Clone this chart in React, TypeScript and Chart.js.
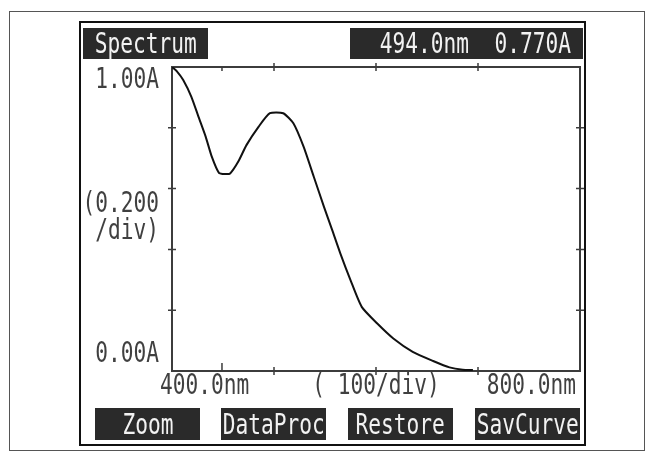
import React, { useEffect, useRef } from "react";
import { Chart, registerables } from "chart.js";

Chart.register(...registerables);

// ---- data ----
const wavelengths = [400, 405, 411, 419, 426, 433, 439, 446, 452, 457, 465, 473, 485, 496, 509, 519, 529, 539, 549, 557, 565, 575, 586, 601, 617, 636, 656, 672, 685, 695];
const absorbance = [1.0, 0.985, 0.957, 0.902, 0.836, 0.771, 0.705, 0.652, 0.648, 0.65, 0.689, 0.743, 0.804, 0.848, 0.848, 0.815, 0.738, 0.639, 0.54, 0.464, 0.387, 0.299, 0.211, 0.157, 0.107, 0.063, 0.033, 0.012, 0.004, 0.003];

const xDivisions = [400, 500, 600, 700, 800];
const yDivisions = [0, 0.2, 0.4, 0.6, 0.8, 1.0];
const markerWavelength = [449];

const yEndLabels = ["0.00A", "1.00A"];
const yDivLabel = ["(0.200", "/div)"];
const xEndLabels = ["400.0nm", "800.0nm"];
const xDivLabel = "( 100/div)";
const headerTitle = "Spectrum";
const cursorReadout = "494.0nm  0.770A";
const buttonLabels = ["Zoom", "DataProc", "Restore", "SavCurve"];

const FONT = '29px "DejaVu Sans Mono", "Liberation Mono", monospace';
const SQUEEZE = 0.73;

function drawText(ctx: CanvasRenderingContext2D, text: string, x: number, y: number, align: CanvasTextAlign) {
  ctx.save();
  ctx.translate(x, y);
  ctx.scale(SQUEEZE, 1);
  ctx.font = FONT;
  ctx.fillStyle = "#404040";
  ctx.textAlign = align;
  ctx.textBaseline = "middle";
  ctx.fillText(text, 0, 0);
  ctx.restore();
}

const instrumentPlugin = {
  id: "instrument",
  beforeDatasetsDraw(chart: any) {
    const { ctx, chartArea, scales } = chart;
    const { left, right, top, bottom } = chartArea;
    ctx.save();
    ctx.strokeStyle = "#3c3c3c";
    ctx.lineWidth = 2;
    ctx.strokeRect(left, top, right - left, bottom - top);
    ctx.lineWidth = 1.5;
    ctx.beginPath();
    for (const v of yDivisions.slice(1, -1)) {
      const py = scales.y.getPixelForValue(v);
      ctx.moveTo(left - 4, py); ctx.lineTo(left + 4, py);
      ctx.moveTo(right - 4, py); ctx.lineTo(right + 4, py);
    }
    for (const v of xDivisions.slice(1, -1)) {
      const px = scales.x.getPixelForValue(v);
      ctx.moveTo(px, top - 4); ctx.lineTo(px, top + 4);
      ctx.moveTo(px, bottom - 4); ctx.lineTo(px, bottom + 4);
    }
    for (const v of markerWavelength) {
      const px = scales.x.getPixelForValue(v);
      ctx.moveTo(px, top); ctx.lineTo(px, top + 4);
      ctx.moveTo(px, bottom - 8); ctx.lineTo(px, bottom);
    }
    ctx.stroke();
    ctx.restore();
  },
  afterDraw(chart: any) {
    const { ctx, chartArea, scales } = chart;
    const { left, top, bottom } = chartArea;
    const midY = (top + bottom) / 2;
    drawText(ctx, yEndLabels[1], left - 13, scales.y.getPixelForValue(yDivisions[yDivisions.length - 1]) + 13, "right");
    drawText(ctx, yEndLabels[0], left - 13, scales.y.getPixelForValue(yDivisions[0]) - 17, "right");
    drawText(ctx, yDivLabel[0], left - 13, midY - 15, "right");
    drawText(ctx, yDivLabel[1], left - 13, midY + 12, "right");
    const labelY = bottom + 15;
    drawText(ctx, xEndLabels[0], scales.x.getPixelForValue(xDivisions[0]) - 12, labelY, "left");
    drawText(ctx, xEndLabels[1], scales.x.getPixelForValue(xDivisions[xDivisions.length - 1]) - 4, labelY, "right");
    drawText(ctx, xDivLabel, scales.x.getPixelForValue(600), labelY, "center");
  },
};

const boxText: React.CSSProperties = {
  display: "inline-block",
  transform: `scaleX(${SQUEEZE})`,
  font: FONT,
  color: "#f2f2f2",
  whiteSpace: "pre",
  lineHeight: "1",
};

const darkBox = (left: number, top: number, width: number, height: number, justify: string): React.CSSProperties => ({
  position: "absolute",
  left,
  top,
  width,
  height,
  background: "#2a2a2a",
  display: "flex",
  alignItems: "center",
  justifyContent: justify,
  boxSizing: "border-box",
  overflow: "visible",
});

export default function App() {
  const canvasRef = useRef<HTMLCanvasElement | null>(null);

  useEffect(() => {
    const canvas = canvasRef.current;
    if (!canvas) return;
    const chart = new Chart(canvas, {
      type: "line",
      data: {
        datasets: [
          {
            data: wavelengths.map((w, i) => ({ x: w, y: absorbance[i] })),
            borderColor: "#111",
            borderWidth: 2,
            pointRadius: 0,
            tension: 0.2,
            fill: false,
          },
        ],
      },
      options: {
        animation: false,
        responsive: false,
        maintainAspectRatio: false,
        layout: { padding: { left: 172, top: 67, right: 72, bottom: 87 } },
        plugins: { legend: { display: false }, tooltip: { enabled: false } },
        scales: {
          x: { type: "linear", min: xDivisions[0], max: xDivisions[xDivisions.length - 1], display: false },
          y: { type: "linear", min: yDivisions[0], max: yDivisions[yDivisions.length - 1], display: false },
        },
      },
      plugins: [instrumentPlugin],
    });
    return () => chart.destroy();
  }, []);

  const buttonLefts = [95, 221, 348, 475];

  return (
    <div style={{ position: "fixed", left: 0, top: 0, width: 652, height: 458, background: "#fff", overflow: "hidden" }}>
      <div style={{ position: "absolute", left: 9, top: 11, width: 636, height: 440, border: "1.5px solid #555", boxSizing: "border-box" }} />
      <div style={{ position: "absolute", left: 79, top: 21, width: 507, height: 425, border: "2px solid #111", boxSizing: "border-box" }} />
      <canvas ref={canvasRef} width={652} height={458} style={{ position: "absolute", left: 0, top: 0 }} />
      <div style={darkBox(83, 28, 125, 31, "center")}>
        <span style={boxText}>{headerTitle}</span>
      </div>
      <div style={darkBox(350, 28, 233, 31, "flex-end")}>
        <span style={{ ...boxText, transformOrigin: "right center", marginRight: 12 }}>{cursorReadout}</span>
      </div>
      {buttonLabels.map((b, i) => (
        <div key={b} style={darkBox(buttonLefts[i], 408, 105, 32, "center")}>
          <span style={boxText}>{b}</span>
        </div>
      ))}
    </div>
  );
}
